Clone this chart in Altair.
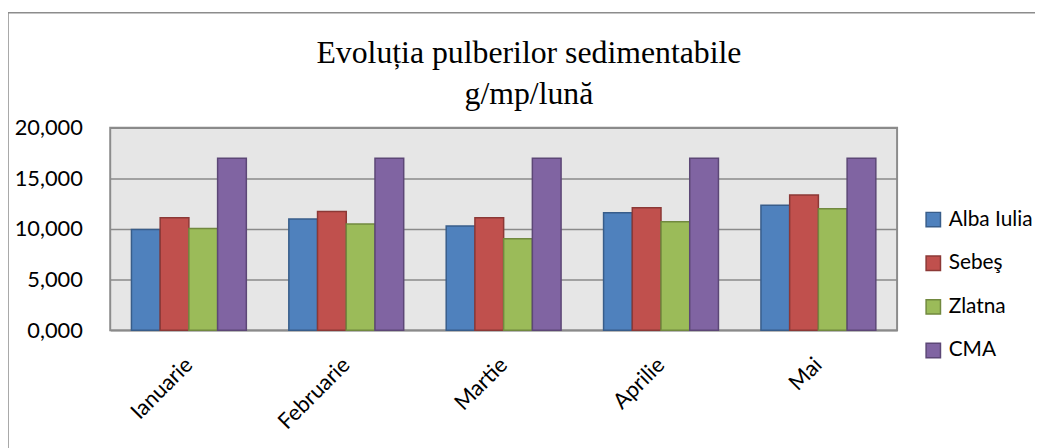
import altair as alt
import pandas as pd

months = ["Ianuarie", "Februarie", "Martie", "Aprilie", "Mai"]
series = ["Alba Iulia", "Sebeş", "Zlatna", "CMA"]
alba_iulia = [9.94, 10.98, 10.29, 11.60, 12.34]
sebes = [11.11, 11.73, 11.11, 12.09, 13.35]
zlatna = [10.04, 10.49, 9.03, 10.72, 11.99]
cma = [17.00, 17.00, 17.00, 17.00, 17.00]
title_lines = ["Evoluția pulberilor sedimentabile", "g/mp/lună"]

fills = ["#4F81BD", "#C0504D", "#9BBB59", "#8064A2"]
strokes = ["#385D8A", "#8C3836", "#71893F", "#5C4776"]

rows = []
for s, vals in zip(series, [alba_iulia, sebes, zlatna, cma]):
    for m, v in zip(months, vals):
        rows.append({"Luna": m, "Serie": s, "Valoare": v})
df = pd.DataFrame(rows)

FONT = "Lato"

legend_cfg = dict(title=None, orient="none", legendX=819, legendY=82,
                  symbolType="square", symbolSize=210, symbolStrokeWidth=1.5,
                  labelFont=FONT, labelFontSize=21, labelColor="black",
                  rowPadding=22, labelOffset=5)

bars = alt.Chart(df).mark_bar(strokeWidth=1.5).encode(
    x=alt.X("Luna:N", sort=months, scale=alt.Scale(paddingInner=0.27, paddingOuter=0.135),
            axis=alt.Axis(title=None, labelAngle=-45, labelAlign="right", labelBaseline="middle",
                          labelFont=FONT, labelFontSize=22, labelColor="black",
                          labelPadding=31, ticks=False, domain=False)),
    xOffset=alt.XOffset("Serie:N", sort=series),
    y=alt.Y("Valoare:Q", scale=alt.Scale(domain=[0, 20]),
            axis=alt.Axis(title=None, values=[0, 5, 10, 15, 20],
                          labelExpr="replace(format(datum.value, '.3f'), '.', ',')",
                          labelFont=FONT, labelFontSize=22, labelColor="black",
                          labelPadding=28, ticks=False, domain=False,
                          gridColor="#8a8a8a", gridWidth=1.5)),
    color=alt.Color("Serie:N", sort=series, scale=alt.Scale(domain=series, range=fills),
                    legend=alt.Legend(**legend_cfg)),
    stroke=alt.Stroke("Serie:N", sort=series, scale=alt.Scale(domain=series, range=strokes),
                      legend=alt.Legend(**legend_cfg)),
)

frame = alt.Chart(alt.Data(values=[{}])).mark_rect(
    fillOpacity=0, stroke="#8c8c8c", strokeWidth=1.5
).encode(x=alt.value(-103), x2=alt.value(1000), y=alt.value(-116), y2=alt.value(400))

title = alt.Chart(alt.Data(values=[{}])).mark_text(
    text=title_lines, font="Liberation Serif", fontSize=32, lineHeight=41,
    align="center", baseline="alphabetic", color="black"
).encode(x=alt.value(422), y=alt.value(-65))

chart = alt.layer(frame, bars, title).properties(
    width=793, height=204,
    autosize=alt.AutoSizeParams(type="none"),
    padding={"left": 103, "top": 119, "right": 139, "bottom": 117},
).configure_view(
    fill="#e6e6e6", stroke="#8c8c8c", strokeWidth=2
)

chart.save("out.html", embed_options={"renderer": "svg", "actions": False})
